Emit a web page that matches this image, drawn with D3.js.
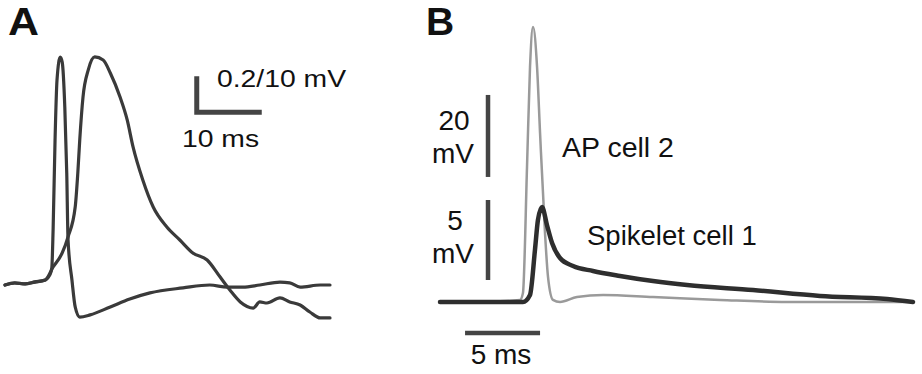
<!DOCTYPE html>
<html>
<head>
<meta charset="utf-8">
<script src="https://cdn.jsdelivr.net/npm/d3@7"></script>
<style>
  body { margin: 0; background: #fff; }
  text { font-family: "Liberation Sans", Arial, sans-serif; fill: #111; }
</style>
</head>
<body>
<script>
// panel A: AP (mV) and spikelet (mV), time in ms
const aApTime = [0, 1.5, 3.1, 4.6, 6.2, 6.9, 7.2, 7.4, 7.7, 8.0, 8.5, 8.8, 9.2, 9.5, 9.7, 10.3, 10.8, 11.5, 13.1, 16.2, 19.2, 22.3, 27.4, 31.5, 34.2, 36.6, 39.2, 42.3, 43.8, 45.4, 48.5, 50];
const aApVolt = [0, 0.6, 0.3, 0.8, 1.4, 2.8, 4.7, 15.3, 40.3, 56.9, 63.3, 61.9, 49.4, 31.1, 12.5, 1.4, -6.1, -8.9, -8.3, -6.1, -3.9, -2.2, -0.8, 0, -0.6, -0.6, 0, 0.8, 0.6, -0.6, 0, 0];
const aSpTime = [0, 1.5, 3.1, 4.6, 6.2, 7.4, 8.8, 9.7, 10.8, 11.2, 11.5, 12.0, 12.8, 13.8, 15.1, 16.2, 17.7, 18.8, 19.7, 21.2, 22.8, 24.9, 26.9, 28.9, 31.1, 33.1, 34.6, 36.2, 38.2, 39.2, 40.3, 42.3, 43.8, 45.4, 46.9, 48.5, 50];
const aSpVolt = [0, 0.011, 0.006, 0.017, 0.028, 0.1, 0.178, 0.267, 0.433, 0.622, 0.806, 1.044, 1.194, 1.267, 1.25, 1.178, 1.044, 0.917, 0.767, 0.583, 0.433, 0.322, 0.25, 0.178, 0.139, 0.044, -0.028, -0.094, -0.128, -0.094, -0.1, -0.072, -0.094, -0.111, -0.15, -0.183, -0.183];

// panel B: AP cell 2 and spikelet cell 1
const bApTime = [0, 2.67, 5.33, 5.53, 5.8, 6.0, 6.2, 6.47, 6.67, 7.0, 7.2, 7.53, 8.0, 9.13, 10.87, 14.2, 18.67, 23.13, 31.5];
const bApVolt = [0, 0, 0.5, 2.2, 32.9, 57.3, 67.1, 57.3, 41.2, 16.8, 6.1, 0.5, 0, 1.2, 1.7, 1.2, 0.5, 0, 0];
const bSpTime = [0, 5.53, 6.0, 6.33, 6.53, 6.8, 7.13, 7.47, 8.0, 8.87, 10.2, 12.0, 14.2, 16.47, 20.87, 25.33, 29.8, 31.53];
const bSpVolt = [0, 0, 0.44, 3.25, 5.13, 5.94, 4.81, 3.69, 2.75, 2.25, 1.94, 1.63, 1.31, 1.06, 0.75, 0.38, 0.19, 0];

// scale bar sizes
const aBarMs = 10, aBarMv = 10;
const bBarMs = 5, bBarApMv = 20, bBarSpMv = 5;

const svg = d3.select('body').append('svg')
  .attr('width', 922)
  .attr('height', 374);

// scales
const xA = d3.scaleLinear().domain([0, 50]).range([5, 330]);
const yAap = d3.scaleLinear().domain([0, 10]).range([285, 249]);
const yAsp = d3.scaleLinear().domain([0, 0.2]).range([285, 249]);

const xB = d3.scaleLinear().domain([0, 31.53]).range([440, 913]);
const yBap = d3.scaleLinear().domain([0, 20]).range([302, 220]);
const yBsp = d3.scaleLinear().domain([0, 5]).range([302, 222]);

function trace(times, volts, x, y, color, w) {
  const pts = times.map((t, i) => [t, volts[i]]);
  svg.append('path')
    .datum(pts)
    .attr('fill', 'none')
    .attr('stroke', color)
    .attr('stroke-width', w)
    .attr('stroke-linejoin', 'round')
    .attr('stroke-linecap', 'round')
    .attr('d', d3.line()
      .x(d => x(d[0]))
      .y(d => y(d[1]))
      .curve(d3.curveMonotoneX));
}

// panel A text is a bit wider than tall
function label(str, x, y, size, opts = {}) {
  const t = svg.append('text')
    .attr('transform', `translate(${x},${y}) scale(${opts.sx || 1},1)`)
    .attr('text-anchor', opts.anchor || 'start')
    .style('font-size', size + 'px')
    .text(str);
  if (opts.bold) t.style('font-weight', 'bold');
  return t;
}

// ---- panel A ----
label('A', 8, 35, 39, { bold: true, sx: 1.1 });

trace(aApTime, aApVolt, xA, yAap, '#3a3a3a', 3.2);
trace(aSpTime, aSpVolt, xA, yAsp, '#3a3a3a', 3.2);

// L shaped scale bar
const aT0 = 29.5, aV0 = 48;
svg.append('path')
  .attr('fill', 'none')
  .attr('stroke', '#444')
  .attr('stroke-width', 5)
  .attr('stroke-linejoin', 'miter')
  .attr('d', `M${xA(aT0)},${yAap(aV0 + aBarMv)}L${xA(aT0)},${yAap(aV0)}L${xA(aT0 + aBarMs)},${yAap(aV0)}`);

label('0.2/10 mV', 217, 87, 24, { sx: 1.18 });
label('10 ms', 182, 147, 24, { sx: 1.18 });

// ---- panel B ----
label('B', 426, 35, 39, { bold: true });

trace(bApTime, bApVolt, xB, yBap, '#9a9a9a', 2.5);
trace(bSpTime, bSpVolt, xB, yBsp, '#2e2e2e', 4.5);

// vertical bars
const bBarT = 3.2;
svg.append('line')
  .attr('x1', xB(bBarT)).attr('x2', xB(bBarT))
  .attr('y1', yBap(30.5)).attr('y2', yBap(30.5 + bBarApMv))
  .attr('stroke', '#444').attr('stroke-width', 4.5);
svg.append('line')
  .attr('x1', xB(bBarT)).attr('x2', xB(bBarT))
  .attr('y1', yBsp(1.375)).attr('y2', yBsp(1.375 + bBarSpMv))
  .attr('stroke', '#444').attr('stroke-width', 4.5);

// time bar
svg.append('line')
  .attr('x1', xB(1.67)).attr('x2', xB(1.67 + bBarMs))
  .attr('y1', 333).attr('y2', 333)
  .attr('stroke', '#444').attr('stroke-width', 4.5);

label('20', 454, 130, 28, { anchor: 'middle' });
label('mV', 453, 163, 28, { anchor: 'middle' });
label('5', 455, 230, 28, { anchor: 'middle' });
label('mV', 453, 263, 28, { anchor: 'middle' });
label('5 ms', 501, 364, 28, { anchor: 'middle' });

label('AP cell 2', 562, 157, 28.5);
label('Spikelet cell 1', 587, 245, 27.5);
</script>
</body>
</html>
